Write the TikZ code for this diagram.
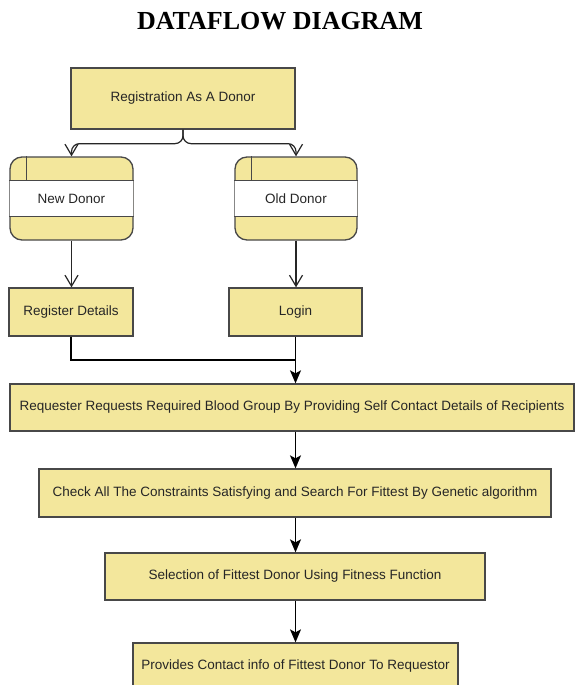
\documentclass[tikz,border=0pt]{standalone}
\usepackage{fontspec}
\setmainfont{Liberation Serif}
\newfontfamily\dfsans{Liberation Sans}
\usetikzlibrary{arrows.meta}

\definecolor{dfyellow}{RGB}{243,231,156}
\definecolor{dfline}{RGB}{72,72,72}
\definecolor{dftext}{RGB}{38,38,38}

\tikzset{
  procbox/.style={draw=dfline, fill=dfyellow, line width=1.3pt, inner sep=0pt,
    text=dftext, font=\dfsans\fontsize{13.5}{16}\selectfont},
  storebox/.style={procbox, rounded corners=12pt},
  flow/.style={-{Stealth[length=13pt,width=11pt,inset=3pt]}, line width=1.3pt, draw=black},
  openflow/.style={-{Straight Barb[length=11pt,width=13pt]}, line width=1.2pt, draw=black!85},
}

\begin{document}
\begin{tikzpicture}[x=1pt,y=-1pt]
  \clip (0,0) rectangle (575,685);
  \fill[white] (0,0) rectangle (575,685);

  \node[font=\bfseries\fontsize{26}{30}\selectfont] (title) at (280,21) {DATAFLOW DIAGRAM};

  % registration and the two donor stores
  \node[procbox, minimum width=224pt, minimum height=61pt] (reg) at (183,98.5) {Registration As A Donor};
  \node[storebox, minimum width=123pt, minimum height=83pt] (newd) at (71.5,198.5) {};
  \node[storebox, minimum width=122pt, minimum height=83pt] (oldd) at (296,198.5) {};
  \foreach \s in {newd,oldd} {
    \fill[white] ([xshift=0.65pt,yshift=-24pt]\s.north west) rectangle ([xshift=-0.65pt,yshift=24pt]\s.south east);
    \draw[dfline, line width=1.3pt] ([yshift=-24pt]\s.north west) -- ([yshift=-24pt]\s.north east);
    \draw[dfline, line width=1.3pt] ([yshift=24pt]\s.south west) -- ([yshift=24pt]\s.south east);
    \draw[dfline, line width=1.3pt] ([xshift=17pt]\s.north west) -- ([xshift=17pt,yshift=-24pt]\s.north west);
  }
  \node[text=dftext, font=\dfsans\fontsize{13.5}{16}\selectfont] (newdt) at (newd) {New Donor};
  \node[text=dftext, font=\dfsans\fontsize{13.5}{16}\selectfont] (olddt) at (oldd) {Old Donor};

  \node[procbox, minimum width=124pt, minimum height=48pt] (regdet) at (71,312) {Register Details};
  \node[procbox, minimum width=133pt, minimum height=48pt] (login) at (295.5,312) {Login};

  % main process chain
  \node[procbox, minimum width=564pt, minimum height=47pt] (req) at (292,407.5) {Requester Requests Required Blood Group By Providing Self Contact Details of Recipients};
  \node[procbox, minimum width=512pt, minimum height=48pt] (check) at (295,493) {Check All The Constraints Satisfying and Search For Fittest By Genetic algorithm};
  \node[procbox, minimum width=380pt, minimum height=47pt] (select) at (295,576.5) {Selection of Fittest Donor Using Fitness Function};
  \node[procbox, minimum width=325pt, minimum height=47pt] (provide) at (295.5,666.5) {Provides Contact info of Fittest Donor To Requestor};

  \coordinate (merge) at (295.5,360);

  \draw[openflow, rounded corners=8pt] (reg.south) -- ++(0,14) -| (newd.north);
  \draw[openflow, rounded corners=8pt] (reg.south) -- ++(0,14) -| (oldd.north);
  \draw[openflow] (newd.south) -- (regdet.north -| newd.south);
  \draw[openflow] (oldd.south) -- (login.north -| oldd.south);
  \draw[line width=1.2pt] (regdet.south) |- (merge);
  \draw[flow] (login.south -| merge) -- (req.north -| merge);
  \draw[flow] (req.south -| merge) -- (check.north -| merge);
  \draw[flow] (check.south -| merge) -- (select.north -| merge);
  \draw[flow] (select.south -| merge) -- (provide.north -| merge);
\end{tikzpicture}
\end{document}
